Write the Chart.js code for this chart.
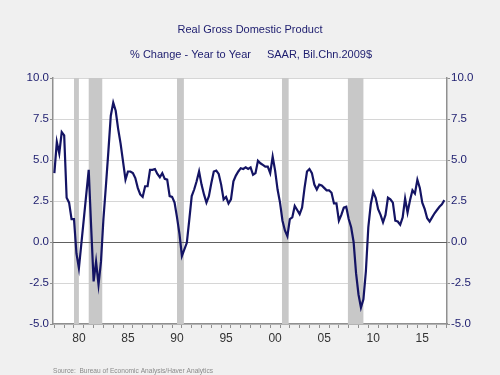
<!DOCTYPE html>
<html>
<head>
<meta charset="utf-8">
<script src="https://cdn.jsdelivr.net/npm/chart.js@4/dist/chart.umd.min.js"></script>
<style>
  html, body { margin: 0; padding: 0; background: #f0f0f0; }
  canvas { display: block; }
</style>
</head>
<body>
<canvas id="gdp" width="500" height="375"></canvas>
<script>
// quarterly, 1978Q1 .. 2017Q4, % change year to year
const startYear = 1978;
const gdpYoY = [
  4.2, 6.1, 5.4, 6.7,   6.5, 2.7, 2.4, 1.4,   1.4, -0.7, -1.6, -0.1,
  1.4, 2.9, 4.4, 0.9,   -2.4, -1.2, -2.6, -1.2,  1.4, 3.4, 5.5, 7.7,
  8.5, 8.0, 6.9, 6.0,   4.9, 3.8, 4.3, 4.3,   4.2, 3.9, 3.3, 2.9,
  2.75, 3.4, 3.4, 4.4,  4.4, 4.45, 4.15, 3.95,  4.2, 3.85, 3.8, 2.8,
  2.75, 2.4, 1.5, 0.5,  -0.85, -0.45, -0.05, 1.35,  2.8, 3.2, 3.7, 4.3,
  3.5, 2.9, 2.4, 2.8,   3.6, 4.3, 4.35, 4.15,  3.5, 2.6, 2.75, 2.35,
  2.6, 3.7, 4.05, 4.3,  4.5, 4.45, 4.55, 4.45,  4.55, 4.1, 4.2, 4.95,
  4.8, 4.7, 4.6, 4.6,   4.2, 5.2, 4.35, 3.2,  2.4, 1.3, 0.7, 0.35,
  1.4, 1.5, 2.2, 1.95,  1.7, 2.1, 3.3, 4.3,  4.45, 4.2, 3.5, 3.2,
  3.5, 3.45, 3.3, 3.15,  3.15, 3.0, 2.35, 2.35,  1.3, 1.65, 2.1, 2.15,
  1.4, 0.9, 0.0, -1.9,  -3.2, -4.0, -3.5, -1.8,  0.9, 2.3, 3.05, 2.7,
  2.0, 1.65, 1.2, 1.65,  2.7, 2.6, 2.4, 1.3,  1.25, 1.05, 1.5, 2.65,
  1.8, 2.55, 3.15, 2.95,  3.8, 3.3, 2.4, 2.0,  1.45, 1.25, 1.5, 1.75,
  1.95, 2.15, 2.3, 2.55
];

const recessionStart = [1980.0, 1981.5, 1990.5, 2001.2, 2007.92];
const recessionEnd   = [1980.5, 1982.88, 1991.2, 2001.88, 2009.5];

const tickYears = [1980, 1985, 1990, 1995, 2000, 2005, 2010, 2015];
const yTicks = [-5, -2.5, 0, 2.5, 5, 7.5, 10];

const navy = '#1c1c6e';
const fontFam = '"Liberation Sans", Arial, sans-serif';
const points = gdpYoY.map((v, i) => ({ x: startYear + i / 4, y: v }));

const frame = {
  id: 'frame',
  beforeDraw(chart) {
    const { ctx, chartArea: a } = chart;
    ctx.save();
    ctx.fillStyle = '#f0f0f0';
    ctx.fillRect(0, 0, chart.width, chart.height);
    ctx.fillStyle = '#ffffff';
    ctx.fillRect(a.left, a.top, a.right - a.left, a.bottom - a.top);
    ctx.restore();
  },
  beforeDatasetsDraw(chart) {
    const { ctx, chartArea: a, scales } = chart;
    ctx.save();
    ctx.fillStyle = '#c8c8c8';
    recessionStart.forEach((s, i) => {
      const x0 = scales.x.getPixelForValue(s);
      const x1 = scales.x.getPixelForValue(recessionEnd[i]);
      ctx.fillRect(x0, a.top, x1 - x0, a.bottom - a.top);
    });
    // zero line on top of the shading
    const y0 = scales.y.getPixelForValue(0);
    ctx.strokeStyle = '#606060';
    ctx.lineWidth = 1;
    ctx.beginPath();
    ctx.moveTo(a.left, y0 + 0.5);
    ctx.lineTo(a.right, y0 + 0.5);
    ctx.stroke();
    ctx.restore();
  },
  afterDraw(chart) {
    const ctx = chart.ctx;
    ctx.save();
    ctx.fillStyle = navy;
    ctx.textAlign = 'center';
    ctx.textBaseline = 'middle';
    ctx.font = '11px ' + fontFam;
    ctx.fillText('Real Gross Domestic Product', 250, 30);
    ctx.fillText('% Change - Year to Year', 190.5, 55);
    ctx.fillText('SAAR, Bil.Chn.2009$', 319.5, 55);
    ctx.fillStyle = '#8a8a8a';
    ctx.textAlign = 'left';
    ctx.font = '7px ' + fontFam;
    ctx.fillText('Source:  Bureau of Economic Analysis/Haver Analytics', 53, 371, 160);
    ctx.restore();
  }
};

new Chart(document.getElementById('gdp'), {
  type: 'line',
  data: {
    datasets: [{
      data: points,
      borderColor: '#141464',
      borderWidth: 2.2,
      pointRadius: 0,
      tension: 0,
      fill: false
    }]
  },
  options: {
    responsive: false,
    devicePixelRatio: 1,
    animation: false,
    layout: { padding: { top: 78, bottom: 26, left: 0, right: 0 } },
    plugins: { legend: { display: false }, tooltip: { enabled: false } },
    scales: {
      x: {
        type: 'linear',
        min: 1977.86,
        max: 2018.02,
        afterFit(s) { s.height = 25; },
        afterBuildTicks(s) {
          const t = [];
          for (let yr = 1978; yr <= 2018; yr++) {
            t.push({ value: yr });
            if (tickYears.includes(yr)) t.push({ value: yr + 0.5 });
          }
          s.ticks = t;
        },
        border: { color: '#909090', width: 1.5 },
        grid: {
          drawOnChartArea: false,
          tickLength: 4,
          color: (c) => (c.tick && Number.isInteger(c.tick.value)) ? '#909090' : 'rgba(0,0,0,0)'
        },
        ticks: {
          autoSkip: false,
          maxRotation: 0,
          padding: 3,
          color: '#333333',
          font: { family: fontFam, size: 12 },
          callback: (v) => {
            const yr = v - 0.5;
            return tickYears.includes(yr) ? String(yr % 100).padStart(2, '0') : '';
          }
        }
      },
      y: {
        position: 'left',
        min: -5,
        max: 10,
        afterFit(s) { s.width = 53; },
        afterBuildTicks(s) { s.ticks = yTicks.map(v => ({ value: v })); },
        border: { color: '#909090', width: 1.5 },
        grid: {
          color: (c) => c.tick && c.tick.value === 0 ? '#606060' : '#d6d6d6',
          tickColor: '#909090',
          tickLength: 3
        },
        ticks: {
          padding: 1,
          color: navy,
          font: { family: fontFam, size: 11.5 },
          callback: (v) => v.toFixed(1)
        }
      },
      y2: {
        position: 'right',
        min: -5,
        max: 10,
        afterFit(s) { s.width = 53; },
        afterBuildTicks(s) { s.ticks = yTicks.map(v => ({ value: v })); },
        border: { color: '#909090', width: 1.5 },
        grid: { drawOnChartArea: false, tickColor: '#909090', tickLength: 3 },
        ticks: {
          padding: 1,
          color: navy,
          font: { family: fontFam, size: 11.5 },
          callback: (v) => v.toFixed(1)
        }
      }
    }
  },
  plugins: [frame]
});
</script>
</body>
</html>
